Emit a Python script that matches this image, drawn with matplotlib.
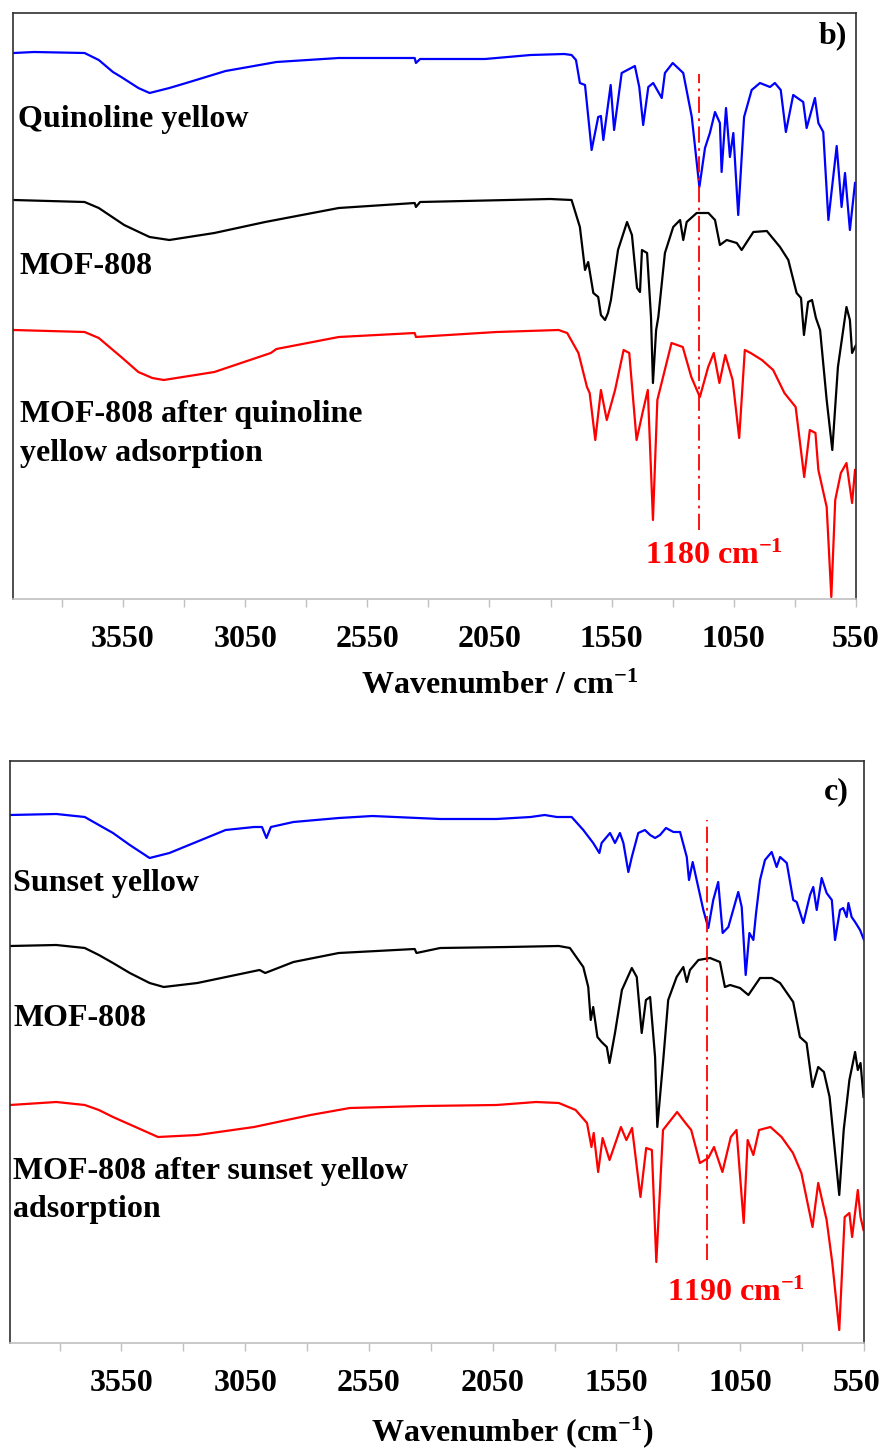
import numpy as np
import matplotlib
matplotlib.use('Agg')
import matplotlib.pyplot as plt
from matplotlib.transforms import ScaledTranslation

plt.rcParams['font.family'] = ['Liberation Serif', 'DejaVu Serif']
plt.rcParams['font.weight'] = 'bold'
plt.rcParams['mathtext.fontset'] = 'custom'
plt.rcParams['mathtext.rm'] = 'Liberation Serif:bold'
plt.rcParams['mathtext.bf'] = 'Liberation Serif:bold'
plt.rcParams['mathtext.it'] = 'Liberation Serif:bold'

# ---------------- panel b : quinoline yellow ----------------
qy_wn = [3998, 3914, 3707, 3649, 3591, 3557, 3487, 3441, 3360, 3291, 3130, 3037, 2922, 2667, 2356,
         2351, 2334, 2068, 1882, 1744,
         1714, 1696, 1680, 1659, 1632, 1605, 1594, 1584, 1554, 1540, 1509, 1455, 1437, 1421, 1400,
         1380, 1345, 1332, 1300, 1257, 1222, 1191, 1168, 1148, 1127, 1107, 1100, 1082, 1066, 1052,
         1032, 1008, 977, 943, 902, 882, 858, 837, 807, 766, 752, 718, 704, 684, 663, 629, 609, 595,
         575, 554]
qy_val = [546, 547, 546, 539, 527, 522, 511, 506, 511, 516, 528, 532, 537, 541, 541,
          536, 540, 540, 544, 545,
          544, 539, 516, 514, 449, 482, 483, 459, 514, 469, 526, 533, 512, 474, 512,
          516, 501, 526, 536, 526, 482, 412, 451, 466, 487, 476, 427, 491, 442, 466,
          384, 482, 509, 516, 512, 516, 509, 467, 504, 497, 471, 501, 476, 467, 379, 453, 392, 426,
          369, 416]

mofb_wn = [3998, 3707, 3649, 3545, 3476, 3441, 3360, 3176, 2968, 2667, 2356, 2351, 2334, 1974, 1802,
           1714, 1680, 1659,
           1646, 1625, 1605, 1594, 1577, 1565, 1553, 1524, 1487, 1467, 1446, 1434, 1426, 1405, 1389,
           1381, 1368, 1359, 1332, 1298, 1270, 1257, 1243, 1202, 1154, 1127, 1107, 1079, 1038, 1018,
           970, 915, 861, 827, 793, 775, 763, 746, 730, 714, 697, 670, 647, 624, 589, 575, 566, 550]
mofb_val = [399, 397, 391, 374, 366, 362, 359, 366, 377, 391, 396, 392, 397, 399, 400,
            399, 372, 329,
            337, 306, 302, 284, 279, 286, 299, 349, 377, 364, 311, 307, 349, 346, 282,
            216, 269, 282, 346, 372, 379, 359, 377, 386, 386, 379, 354, 359, 356, 349,
            367, 368, 352, 339, 306, 301, 264, 297, 299, 281, 269, 199, 149, 232, 292, 279, 246, 254]

adsb_wn = [3998, 3707, 3649, 3591, 3557, 3487, 3430, 3383, 3176, 2945, 2922, 2667, 2356, 2351, 2021,
           1767, 1732, 1686,
           1651, 1640, 1617, 1594, 1570, 1536, 1501, 1478, 1448, 1421, 1402, 1381, 1363, 1305, 1259,
           1224, 1189, 1155, 1132, 1109, 1085, 1055, 1028, 1005, 981, 935, 889, 843, 797, 762, 739,
           716, 704, 670, 651, 635, 612, 589, 566, 554]
adsb_val = [269, 267, 261, 249, 242, 227, 221, 219, 227, 246, 250, 262, 266, 262, 267,
            269, 266, 246,
            212, 206, 159, 209, 179, 209, 249, 246, 159, 189, 209, 79, 199, 256, 252,
            222, 202, 232, 246, 216, 244, 219, 161, 249, 246, 239, 229, 206, 192, 122, 169,
            166, 129, 92, 2, 99, 126, 136, 96, 129]

# ---------------- panel c : sunset yellow ----------------
sy_wn = [4000, 3813, 3698, 3641, 3584, 3516, 3436, 3356, 3129, 3014, 2982, 2964, 2946, 2855, 2672,
         2536, 2353,
         2262, 2034, 1897, 1840, 1791, 1731, 1684, 1644, 1619, 1610, 1576, 1556, 1536, 1522, 1502,
         1488, 1462, 1435, 1414, 1394, 1374, 1350, 1320, 1293, 1266, 1257, 1242, 1226, 1199, 1179,
         1159, 1139, 1121, 1098, 1058, 1044, 1028, 1013, 997, 986, 970, 950, 923, 903, 889, 862,
         836, 822, 795, 768, 755, 741, 721, 701, 680, 667, 647, 634, 620, 613, 600, 586, 566, 550]
sy_val = [528, 529, 526, 518, 510, 498, 485, 490, 513, 516, 516, 505, 516, 521, 525,
          527, 525,
          524, 524, 526, 528, 526, 526, 513, 500, 490, 500, 510, 500, 510, 500, 471,
          486, 510, 513, 508, 505, 508, 515, 511, 511, 486, 463, 481, 463, 433, 415,
          443, 461, 410, 416, 451, 436, 368, 410, 403, 430, 463, 483, 491, 476, 486, 480,
          443, 441, 420, 448, 456, 433, 465, 450, 443, 403, 433, 435, 426, 440, 426, 421, 413, 403]

mofc_wn = [4000, 3813, 3698, 3641, 3584, 3516, 3436, 3379, 3243, 2992, 2969, 2855, 2672, 2365, 2358,
           2262, 1989,
           1783, 1738, 1684, 1664, 1654, 1644, 1627, 1610, 1589, 1578, 1556, 1528, 1488, 1468, 1448,
           1431, 1414, 1394, 1385, 1361, 1341, 1307, 1280, 1266, 1253, 1219, 1172, 1132, 1112, 1091,
           1051, 1017, 970, 923, 889, 836, 809, 782, 758, 735, 712, 689, 650, 632, 609, 586, 575,
           564, 552]
mofc_val = [397, 398, 395, 388, 380, 370, 360, 356, 360, 373, 370, 381, 390, 394, 390,
            395, 396,
            397, 395, 376, 356, 323, 336, 306, 301, 296, 280, 310, 353, 375, 366, 310,
            343, 346, 286, 216, 283, 343, 366, 376, 361, 373, 383, 385, 381, 356, 358,
            355, 348, 365, 365, 360, 341, 306, 300, 256, 276, 271, 246, 148, 213, 263, 291, 273,
            280, 246]

adsc_wn = [4000, 3813, 3698, 3641, 3584, 3493, 3402, 3243, 3014, 2786, 2627, 2330, 2034, 1875, 1783,
           1715,
           1669, 1651, 1642, 1624, 1606, 1578, 1532, 1510, 1487, 1453, 1430, 1407, 1389, 1362, 1305,
           1271, 1248, 1213, 1179, 1156, 1122, 1088, 1065, 1036, 1020, 997, 974, 928, 883, 837, 803,
           758, 735, 701, 678, 650, 628, 609, 598, 575, 564, 552]
adsc_val = [238, 241, 238, 233, 226, 216, 206, 208, 216, 228, 235, 237, 238, 241, 240,
            233,
            220, 196, 210, 171, 205, 183, 216, 203, 215, 146, 195, 193, 81, 213, 231,
            220, 213, 180, 185, 196, 171, 206, 213, 120, 203, 188, 213, 216, 206, 190, 170,
            116, 160, 123, 80, 13, 126, 130, 106, 153, 126, 113]

# marked band (position as drawn) and its label
band_b, label_b = 1193, '1180'
band_c, label_c = 1184, '1190'

tick_pos = np.arange(3800, 549, -250)
tick_lab = [str(t) if (t - 50) % 500 == 0 else '' for t in tick_pos]

fig = plt.figure(figsize=(8.85, 14.48), dpi=100)
axb = fig.add_axes([13 / 885, 1 - 599 / 1448, 843 / 885, 586 / 1448])
axc = fig.add_axes([10 / 885, 1 - 1343 / 1448, 854 / 885, 582 / 1448])

FS = 23
lw = 1.6


def style(ax, ytop):
    ax.set_xlim(4000, 550)
    ax.set_ylim(0, ytop)
    ax.set_yticks([])
    ax.set_xticks(tick_pos)
    ax.set_xticklabels(tick_lab, fontsize=FS, fontweight='bold')
    ax.tick_params(axis='x', direction='out', length=6, width=1, color='#c0c0c0', pad=13)
    for s in ['left', 'top', 'right']:
        ax.spines[s].set_color('#303030')
        ax.spines[s].set_linewidth(1.2)
    ax.spines['bottom'].set_color('#c0c0c0')
    ax.spines['bottom'].set_linewidth(1.2)


# panel b
axb.plot(qy_wn, qy_val, color='#0000ff', lw=lw)
axb.plot(mofb_wn, mofb_val, color='black', lw=lw)
axb.plot(adsb_wn, adsb_val, color='#ff0000', lw=lw)
axb.plot([band_b, band_b], [69, 525], color='#ff0000', lw=1.3, ls=(0, (9, 3, 1.5, 3)))
style(axb, 586)
kw = dict(transform=axb.transAxes, fontsize=FS, fontweight='bold', va='center')
axb.text(0.006, 0.819, 'Quinoline yellow', **kw)
axb.text(0.008, 0.568, 'MOF-808', **kw)
axb.text(0.008, 0.315, 'MOF-808 after quinoline', **kw)
axb.text(0.008, 0.249, 'yellow adsorption', **kw)
axb.text(0.973, 0.961, 'b)', transform=axb.transAxes, fontsize=FS, fontweight='bold',
         ha='center', va='center')
axb.text(0.832, 0.073, label_b + ' cm$^{-1}$', transform=axb.transAxes, fontsize=FS,
         fontweight='bold', color='#ff0000', ha='center', va='center')
fig.text(500 / 885, 1 - 686 / 1448, 'Wavenumber / cm$^{-1}$', fontsize=FS, fontweight='bold',
         ha='center', va='center')

# panel c
axc.plot(sy_wn, sy_val, color='#0000ff', lw=lw)
axc.plot(mofc_wn, mofc_val, color='black', lw=lw)
axc.plot(adsc_wn, adsc_val, color='#ff0000', lw=lw)
axc.plot([band_c, band_c], [83, 523], color='#ff0000', lw=1.3, ls=(0, (9, 3, 1.5, 3)))
style(axc, 582)
kw = dict(transform=axc.transAxes, fontsize=FS, fontweight='bold', va='center')
axc.text(0.004, 0.790, 'Sunset yellow', **kw)
axc.text(0.004, 0.558, 'MOF-808', **kw)
axc.text(0.004, 0.295, 'MOF-808 after sunset yellow', **kw)
axc.text(0.004, 0.230, 'adsorption', **kw)
axc.text(0.968, 0.947, 'c)', transform=axc.transAxes, fontsize=FS, fontweight='bold',
         ha='center', va='center')
axc.text(0.850, 0.086, label_c + ' cm$^{-1}$', transform=axc.transAxes, fontsize=FS,
         fontweight='bold', color='#ff0000', ha='center', va='center')
fig.text(512 / 885, 1 - 1432 / 1448, 'Wavenumber (cm$^{-1}$)', fontsize=FS, fontweight='bold',
         ha='center', va='center')

# keep the last tick label of panel c inside the figure edge
last = axc.get_xticklabels()[-1]
last.set_transform(last.get_transform() + ScaledTranslation(-5 / 72, 0, fig.dpi_scale_trans))

fig.savefig('out.png', dpi=100, facecolor='white')
